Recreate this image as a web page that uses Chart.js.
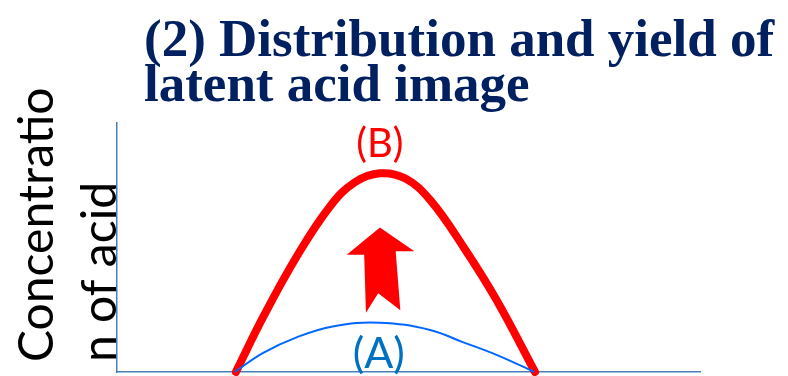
<!DOCTYPE html>
<html>
<head>
<meta charset="utf-8">
<script src="https://cdn.jsdelivr.net/npm/chart.js@4.4.1/dist/chart.umd.min.js"></script>
<style>
  html, body { margin: 0; padding: 0; background: #fff; }
  #wrap { width: 788px; height: 376px; }
</style>
</head>
<body>
<div id="wrap"><canvas id="myChart" width="788" height="376"></canvas></div>
<script>
// curve (A): before
const blueX = [20.2, 25, 31, 37, 45, 53.7, 59.3, 65.2, 71.6];
const blueY = [0, 7.6, 14.1, 18.3, 19.8, 16.9, 12.0, 6.8, 0];

// curve (B): after
const redX = [20.4, 25.1, 30.8, 36.5, 40.8, 45.1, 49.4, 53.7, 59.4, 65.1, 71.7];
const redY = [0, 22.2, 46.3, 66.4, 76.2, 79.8, 77.8, 69.1, 50.3, 28.9, 0];

const titleLines = ["(2) Distribution and yield of", "latent acid image"];
const yLabelLines = ["Concentratio", "n of acid"];
const curveLabels = ["(A)", "(B)"];

function toPoints(xs, ys) {
    return xs.map((x, i) => ({x: x, y: ys[i]}));
}

// text + block arrow drawn on top of the chart
const slideText = {
    id: 'slideText',
    afterDatasetsDraw(chart) {
        const ctx = chart.ctx;
        const xs = chart.scales.x, ys = chart.scales.y;
        const px = v => xs.getPixelForValue(v);
        const py = v => ys.getPixelForValue(v);

        // arrow from (A) up to (B), outline in data units
        const arrow = [[45.1, 58], [51, 48.5], [47.8, 48.5], [48.6, 24.8],
                       [44.8, 31.6], [42.7, 23.8], [42.4, 47.1], [39.4, 47.1]];
        ctx.save();
        ctx.fillStyle = '#ff0000';
        ctx.beginPath();
        arrow.forEach((p, i) => {
            if (i === 0) ctx.moveTo(px(p[0]), py(p[1]));
            else ctx.lineTo(px(p[0]), py(p[1]));
        });
        ctx.closePath();
        ctx.fill();

        ctx.textAlign = 'center';
        ctx.textBaseline = 'alphabetic';
        ctx.fillStyle = '#0070c0';
        ctx.font = '43px Lato';
        ctx.fillText(curveLabels[0], px(44.9), py(1.5));
        ctx.fillStyle = '#ff0000';
        ctx.font = '40px Lato';
        ctx.fillText(curveLabels[1], px(45.1), py(86.5));
        ctx.restore();
    },
    afterDraw(chart) {
        const ctx = chart.ctx;
        ctx.save();
        // slide title
        ctx.fillStyle = '#002060';
        ctx.font = 'bold 53px "Liberation Serif"';
        ctx.textAlign = 'left';
        ctx.textBaseline = 'alphabetic';
        ctx.fillText(titleLines[0], 144, 56);
        ctx.fillText(titleLines[1], 144, 101);

        // rotated axis label
        ctx.fillStyle = '#000';
        ctx.font = '48px Lato';
        ctx.translate(53, 362);
        ctx.rotate(-Math.PI / 2);
        ctx.fillText(yLabelLines[0], 0, 0);
        ctx.fillText(yLabelLines[1], 0, 63);
        ctx.restore();
    }
};

new Chart("myChart", {
    type: "line",
    data: {
        datasets: [{
            label: "(B)",
            data: toPoints(redX, redY),
            borderColor: "#ff0000",
            borderWidth: 8,
            borderCapStyle: "round",
            pointRadius: 0,
            tension: 0.4,
            clip: false,
            order: 2
        }, {
            label: "(A)",
            data: toPoints(blueX, blueY),
            borderColor: "#0066ff",
            borderWidth: 2,
            pointRadius: 0,
            tension: 0.4,
            clip: false,
            order: 1
        }]
    },
    options: {
        responsive: false,
        animation: false,
        events: [],
        layout: {
            padding: {left: 117, right: 88, top: 123, bottom: 4}
        },
        scales: {
            x: {
                type: "linear",
                min: 0,
                max: 100,
                ticks: {display: false},
                grid: {display: false, drawTicks: false},
                border: {display: true, color: "#4a7ebb", width: 1.5}
            },
            y: {
                min: 0,
                max: 100,
                ticks: {display: false},
                grid: {display: false, drawTicks: false},
                border: {display: true, color: "#4a7ebb", width: 1.5}
            }
        },
        plugins: {
            legend: {display: false},
            tooltip: {enabled: false},
            title: {display: false}
        }
    },
    plugins: [slideText]
});
</script>
</body>
</html>
